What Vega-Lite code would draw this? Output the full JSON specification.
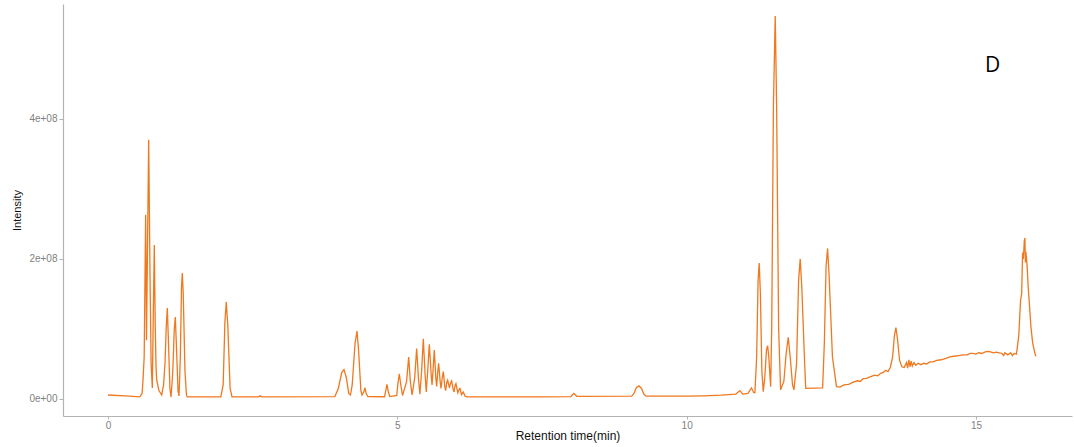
{
  "$schema": "https://vega.github.io/schema/vega-lite/v6.json",
  "autosize": {"type": "none"},
  "width": 1009,
  "height": 412,
  "padding": {"left": 63, "top": 4, "right": 2, "bottom": 31},
  "background": "white",
  "config": {
    "view": {"stroke": null},
    "axis": {
      "grid": false,
      "domainColor": "#b3b3b3",
      "domainWidth": 1.2,
      "tickColor": "#b3b3b3",
      "tickSize": 4,
      "labelColor": "#808080",
      "labelFont": "Liberation Sans",
      "labelFontSize": 10,
      "labelPadding": 2,
      "titleColor": "#111111",
      "titleFont": "Liberation Sans",
      "titleFontWeight": "normal"
    }
  },
  "datasets": {
    "trace": [
      {"t": 0, "i": 5.7e6}, {"t": 0.3, "i": 4.5e6}, {"t": 0.55, "i": 3.0e6}, {"t": 0.59, "i": 8e6},
      {"t": 0.605, "i": 27e6}, {"t": 0.625, "i": 60e6}, {"t": 0.645, "i": 220e6}, {"t": 0.651, "i": 263e6},
      {"t": 0.66, "i": 150e6}, {"t": 0.665, "i": 84e6}, {"t": 0.68, "i": 200e6}, {"t": 0.703, "i": 370e6},
      {"t": 0.725, "i": 180e6}, {"t": 0.745, "i": 50e6}, {"t": 0.766, "i": 15.7e6}, {"t": 0.782, "i": 120e6},
      {"t": 0.8, "i": 220e6}, {"t": 0.815, "i": 110e6}, {"t": 0.83, "i": 45e6}, {"t": 0.842, "i": 27e6},
      {"t": 0.88, "i": 12e6}, {"t": 0.928, "i": 5.7e6}, {"t": 0.96, "i": 20e6}, {"t": 0.985, "i": 51e6},
      {"t": 1.005, "i": 100e6}, {"t": 1.025, "i": 130e6}, {"t": 1.045, "i": 80e6}, {"t": 1.07, "i": 15e6},
      {"t": 1.089, "i": 2.9e6}, {"t": 1.12, "i": 40e6}, {"t": 1.145, "i": 100e6}, {"t": 1.163, "i": 117e6},
      {"t": 1.185, "i": 70e6}, {"t": 1.21, "i": 12e6}, {"t": 1.227, "i": 4.3e6}, {"t": 1.25, "i": 60e6},
      {"t": 1.27, "i": 160e6}, {"t": 1.284, "i": 180e6}, {"t": 1.3, "i": 150e6}, {"t": 1.33, "i": 40e6},
      {"t": 1.355, "i": 6e6}, {"t": 1.37, "i": 2.9e6}, {"t": 1.95, "i": 2.9e6}, {"t": 1.99, "i": 20e6},
      {"t": 2.02, "i": 110e6}, {"t": 2.044, "i": 138.6e6}, {"t": 2.07, "i": 105e6}, {"t": 2.11, "i": 15e6},
      {"t": 2.143, "i": 2.9e6}, {"t": 2.6, "i": 3.0e6}, {"t": 2.63, "i": 4.5e6}, {"t": 2.66, "i": 3.0e6},
      {"t": 3.92, "i": 3.5e6}, {"t": 3.98, "i": 15e6}, {"t": 4.04, "i": 38e6}, {"t": 4.078, "i": 42e6},
      {"t": 4.12, "i": 30e6}, {"t": 4.16, "i": 8e6}, {"t": 4.19, "i": 5.7e6}, {"t": 4.22, "i": 20e6},
      {"t": 4.27, "i": 80e6}, {"t": 4.303, "i": 97e6}, {"t": 4.33, "i": 70e6}, {"t": 4.37, "i": 12e6},
      {"t": 4.39, "i": 5.7e6}, {"t": 4.42, "i": 10e6}, {"t": 4.441, "i": 16e6}, {"t": 4.46, "i": 8e6},
      {"t": 4.49, "i": 3.5e6}, {"t": 4.78, "i": 3.2e6}, {"t": 4.8, "i": 12e6}, {"t": 4.821, "i": 21e6},
      {"t": 4.845, "i": 10e6}, {"t": 4.87, "i": 3.5e6}, {"t": 4.99, "i": 5e6}, {"t": 5.01, "i": 22e6},
      {"t": 5.034, "i": 36e6}, {"t": 5.06, "i": 20e6}, {"t": 5.09, "i": 5e6}, {"t": 5.16, "i": 25e6},
      {"t": 5.196, "i": 60e6}, {"t": 5.225, "i": 25e6}, {"t": 5.255, "i": 5.7e6}, {"t": 5.3, "i": 30e6},
      {"t": 5.334, "i": 72e6}, {"t": 5.365, "i": 30e6}, {"t": 5.39, "i": 7e6}, {"t": 5.42, "i": 40e6},
      {"t": 5.449, "i": 86e6}, {"t": 5.48, "i": 35e6}, {"t": 5.5, "i": 10e6}, {"t": 5.525, "i": 40e6},
      {"t": 5.553, "i": 78e6}, {"t": 5.585, "i": 35e6}, {"t": 5.6, "i": 20e6}, {"t": 5.62, "i": 45e6},
      {"t": 5.639, "i": 70e6}, {"t": 5.665, "i": 30e6}, {"t": 5.68, "i": 18e6}, {"t": 5.7, "i": 40e6},
      {"t": 5.714, "i": 51e6}, {"t": 5.74, "i": 25e6}, {"t": 5.755, "i": 15e6}, {"t": 5.775, "i": 30e6},
      {"t": 5.795, "i": 39e6}, {"t": 5.82, "i": 18e6}, {"t": 5.835, "i": 12e6}, {"t": 5.855, "i": 24e6},
      {"t": 5.87, "i": 27e6}, {"t": 5.9, "i": 16e6}, {"t": 5.925, "i": 24e6}, {"t": 5.939, "i": 26e6},
      {"t": 5.965, "i": 14e6}, {"t": 5.98, "i": 10e6}, {"t": 6.0, "i": 20e6}, {"t": 6.013, "i": 22e6},
      {"t": 6.045, "i": 9e6}, {"t": 6.07, "i": 14e6}, {"t": 6.083, "i": 15e6}, {"t": 6.11, "i": 6e6},
      {"t": 6.13, "i": 9e6}, {"t": 6.14, "i": 10e6}, {"t": 6.17, "i": 4e6}, {"t": 6.2, "i": 3.0e6},
      {"t": 6.5, "i": 2.9e6}, {"t": 7.5, "i": 3.0e6}, {"t": 8.0, "i": 3.5e6}, {"t": 8.05, "i": 8e6},
      {"t": 8.1, "i": 3.8e6}, {"t": 9.05, "i": 4e6}, {"t": 9.09, "i": 8e6}, {"t": 9.13, "i": 16e6},
      {"t": 9.176, "i": 18.6e6}, {"t": 9.22, "i": 15e6}, {"t": 9.26, "i": 7e6}, {"t": 9.3, "i": 4e6},
      {"t": 10.0, "i": 4e6}, {"t": 10.3, "i": 4.5e6}, {"t": 10.6, "i": 5.5e6}, {"t": 10.85, "i": 7e6},
      {"t": 10.92, "i": 12e6}, {"t": 10.97, "i": 7e6}, {"t": 11.06, "i": 8e6}, {"t": 11.12, "i": 15.7e6},
      {"t": 11.16, "i": 9e6}, {"t": 11.18, "i": 9e6}, {"t": 11.21, "i": 60e6}, {"t": 11.235, "i": 170e6},
      {"t": 11.254, "i": 194e6}, {"t": 11.275, "i": 150e6}, {"t": 11.3, "i": 40e6}, {"t": 11.324, "i": 10.5e6},
      {"t": 11.35, "i": 30e6}, {"t": 11.38, "i": 70e6}, {"t": 11.4, "i": 76e6}, {"t": 11.42, "i": 60e6},
      {"t": 11.452, "i": 17.6e6}, {"t": 11.47, "i": 100e6}, {"t": 11.5, "i": 420e6}, {"t": 11.531, "i": 547e6},
      {"t": 11.555, "i": 420e6}, {"t": 11.59, "i": 100e6}, {"t": 11.624, "i": 13e6}, {"t": 11.68, "i": 25e6},
      {"t": 11.72, "i": 65e6}, {"t": 11.756, "i": 88e6}, {"t": 11.79, "i": 60e6}, {"t": 11.83, "i": 20e6},
      {"t": 11.854, "i": 13e6}, {"t": 11.9, "i": 50e6}, {"t": 11.935, "i": 170e6}, {"t": 11.963, "i": 200e6},
      {"t": 11.99, "i": 160e6}, {"t": 12.04, "i": 50e6}, {"t": 12.058, "i": 15.2e6}, {"t": 12.35, "i": 15.7e6},
      {"t": 12.38, "i": 80e6}, {"t": 12.41, "i": 190e6}, {"t": 12.436, "i": 215e6}, {"t": 12.46, "i": 180e6},
      {"t": 12.52, "i": 60e6}, {"t": 12.59, "i": 17.6e6}, {"t": 12.65, "i": 17e6}, {"t": 12.72, "i": 20e6},
      {"t": 12.8, "i": 21e6}, {"t": 12.88, "i": 24e6}, {"t": 12.95, "i": 26e6}, {"t": 13.0, "i": 25e6},
      {"t": 13.05, "i": 29e6}, {"t": 13.11, "i": 29.5e6}, {"t": 13.18, "i": 32e6}, {"t": 13.25, "i": 34e6},
      {"t": 13.3, "i": 33e6}, {"t": 13.36, "i": 37e6}, {"t": 13.4, "i": 38e6}, {"t": 13.44, "i": 41e6},
      {"t": 13.48, "i": 39e6}, {"t": 13.52, "i": 45e6}, {"t": 13.56, "i": 60e6}, {"t": 13.59, "i": 90e6},
      {"t": 13.617, "i": 102e6}, {"t": 13.645, "i": 85e6}, {"t": 13.68, "i": 55e6}, {"t": 13.72, "i": 46e6},
      {"t": 13.76, "i": 45e6}, {"t": 13.8, "i": 52e6}, {"t": 13.82, "i": 44e6}, {"t": 13.84, "i": 56e6},
      {"t": 13.86, "i": 46e6}, {"t": 13.88, "i": 54e6}, {"t": 13.9, "i": 47e6}, {"t": 13.93, "i": 52e6},
      {"t": 13.96, "i": 48e6}, {"t": 14.0, "i": 51e6}, {"t": 14.05, "i": 49e6}, {"t": 14.1, "i": 51e6},
      {"t": 14.15, "i": 50e6}, {"t": 14.2, "i": 53e6}, {"t": 14.26, "i": 53e6}, {"t": 14.32, "i": 55e6},
      {"t": 14.4, "i": 56e6}, {"t": 14.48, "i": 58e6}, {"t": 14.55, "i": 60e6}, {"t": 14.62, "i": 61e6},
      {"t": 14.7, "i": 62e6}, {"t": 14.78, "i": 63e6}, {"t": 14.85, "i": 63e6}, {"t": 14.9, "i": 65e6},
      {"t": 14.95, "i": 65e6}, {"t": 15.0, "i": 64e6}, {"t": 15.05, "i": 66e6}, {"t": 15.1, "i": 65e6},
      {"t": 15.15, "i": 67e6}, {"t": 15.2, "i": 68e6}, {"t": 15.24, "i": 67.6e6}, {"t": 15.3, "i": 66e6},
      {"t": 15.35, "i": 67e6}, {"t": 15.4, "i": 66e6}, {"t": 15.45, "i": 65e6}, {"t": 15.48, "i": 62e6},
      {"t": 15.5, "i": 66e6}, {"t": 15.55, "i": 63e6}, {"t": 15.6, "i": 66e6}, {"t": 15.63, "i": 62e6},
      {"t": 15.66, "i": 65e6}, {"t": 15.7, "i": 64e6}, {"t": 15.74, "i": 90e6}, {"t": 15.771, "i": 141e6},
      {"t": 15.79, "i": 150e6}, {"t": 15.806, "i": 209e6}, {"t": 15.82, "i": 200e6}, {"t": 15.835, "i": 225e6},
      {"t": 15.846, "i": 230e6}, {"t": 15.855, "i": 195e6}, {"t": 15.863, "i": 210e6}, {"t": 15.885, "i": 189e6},
      {"t": 15.903, "i": 160e6}, {"t": 15.92, "i": 140e6}, {"t": 15.95, "i": 103e6}, {"t": 15.98, "i": 80e6},
      {"t": 16.006, "i": 70e6}, {"t": 16.02, "i": 65e6}, {"t": 16.036, "i": 61e6}
    ],
    "label": [{"t": 15.29, "i": 475.7e6, "txt": "D"}]
  },
  "layer": [
    {
      "data": {"name": "trace"},
      "mark": {"type": "line", "color": "#F0781E", "strokeWidth": 1.3, "clip": true},
      "encoding": {
        "x": {
          "field": "t", "type": "quantitative",
          "scale": {"domain": [-0.778, 16.66], "nice": false, "zero": false},
          "axis": {"values": [0, 5, 10, 15], "format": "d", "title": "Retention time(min)", "titleFontSize": 12, "titlePadding": 0, "tickSize": 3, "labelPadding": 1}
        },
        "y": {
          "field": "i", "type": "quantitative",
          "scale": {"domain": [-24.3e6, 564e6], "nice": false, "zero": false},
          "axis": {"values": [0, 200000000, 400000000], "labelExpr": "replace(format(datum.value, '.0e'), 'e+', 'e+0')", "title": "Intensity", "titleFontSize": 11, "titlePadding": 6}
        }
      }
    },
    {
      "data": {"name": "label"},
      "mark": {"type": "text", "font": "Open Sans", "fontSize": 21, "color": "#000000", "align": "center", "baseline": "middle"},
      "encoding": {
        "x": {"field": "t", "type": "quantitative"},
        "y": {"field": "i", "type": "quantitative"},
        "text": {"field": "txt"}
      }
    }
  ]
}
